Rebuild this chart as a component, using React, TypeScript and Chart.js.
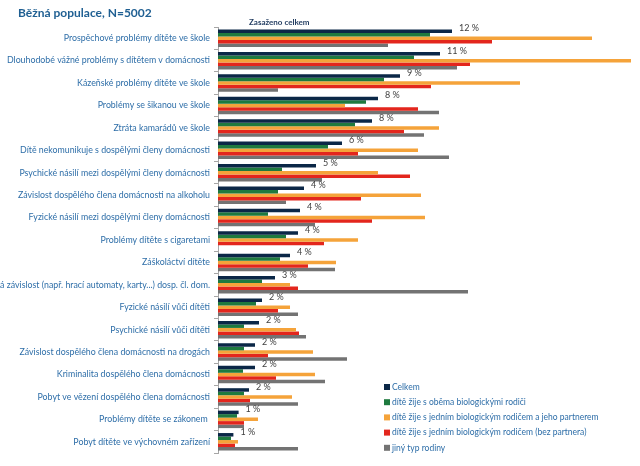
import React, { useEffect, useRef } from "react";
import { Chart, registerables } from "chart.js";

Chart.register(...registerables);

const categories: string[] = [
  "Prospěchové problémy dítěte ve škole",
  "Dlouhodobé vážné problémy s dítětem v domácnosti",
  "Kázeňské problémy dítěte ve škole",
  "Problémy se šikanou ve škole",
  "Ztráta kamarádů ve škole",
  "Dítě nekomunikuje s dospělými členy domácnosti",
  "Psychické násilí mezi dospělými členy domácnosti",
  "Závislost dospělého člena domácnosti na alkoholu",
  "Fyzické násilí mezi dospělými členy domácnosti",
  "Problémy dítěte s cigaretami",
  "Záškoláctví dítěte",
  "Jiná závislost (např. hrací automaty, karty...) dosp. čl. dom.",
  "Fyzické násilí vůči dítěti",
  "Psychické násilí vůči dítěti",
  "Závislost dospělého člena domácnosti na drogách",
  "Kriminalita dospělého člena domácnosti",
  "Pobyt ve vězení dospělého člena domácnosti",
  "Problémy dítěte se zákonem ",
  "Pobyt dítěte ve výchovném zařízení",
];

const seriesNames: string[] = [
  "Celkem",
  "dítě žije s oběma biologickými rodiči",
  "dítě žije s jedním biologickým rodičem a jeho partnerem",
  "dítě žije s jedním biologickým rodičem (bez partnera)",
  "jiný typ rodiny",
];

const celkem: number[] = [11.7, 11.1, 9.1, 8.0, 7.7, 6.2, 4.9, 4.3, 4.1, 4.0, 3.6, 2.85, 2.2, 2.05, 1.85, 1.85, 1.55, 1.03, 0.77];
const obaRodice: number[] = [10.6, 9.8, 8.3, 7.4, 6.85, 5.5, 3.2, 3.0, 2.5, 3.4, 3.1, 2.2, 1.9, 1.3, 1.3, 1.25, 1.3, 0.95, 0.65];
const rodicPartner: number[] = [18.7, 20.65, 15.1, 6.35, 11.05, 10.0, 8.0, 10.15, 10.35, 7.0, 5.9, 3.6, 3.6, 3.9, 4.75, 4.85, 3.7, 2.0, 1.0];
const rodicSam: number[] = [13.7, 12.6, 10.65, 10.0, 9.3, 7.0, 9.6, 7.15, 7.7, 5.3, 4.5, 4.0, 3.0, 4.05, 2.5, 2.9, 1.6, 1.3, 0.85];
const jinyTyp: number[] = [8.5, 11.95, 3.0, 11.05, 10.3, 11.55, 5.2, 3.4, 4.85, 0, 5.85, 12.5, 4.0, 4.4, 6.45, 5.35, 4.0, 1.3, 4.0];

const seriesValues: number[][] = [celkem, obaRodice, rodicPartner, rodicSam, jinyTyp];
const seriesColors: string[] = ["#0b2747", "#1e7a3f", "#f5a33a", "#e3261d", "#737373"];

const titleText = "Běžná populace, N=5002";
const subTitleText = "Zasaženo celkem";

const FONT = "Lato, 'Open Sans', sans-serif";

export default function App() {
  const ref = useRef<HTMLCanvasElement | null>(null);

  useEffect(() => {
    if (!ref.current) return;

    const overlay = {
      id: "overlay",
      afterDatasetsDraw(chart: any) {
        const ctx = chart.ctx;
        const area = chart.chartArea;
        ctx.save();
        // value labels for first dataset
        const meta = chart.getDatasetMeta(0);
        ctx.font = `9px ${FONT}`;
        ctx.fillStyle = "#404040";
        ctx.textAlign = "left";
        ctx.textBaseline = "middle";
        meta.data.forEach((bar: any, i: number) => {
          const v = chart.data.datasets[0].data[i] as number;
          ctx.fillText(`${Math.round(v)} %`, bar.x + 7, bar.y - 3);
        });
        // title
        ctx.font = `bold 12px ${FONT}`;
        ctx.fillStyle = "#1f5f92";
        ctx.textBaseline = "middle";
        ctx.fillText(titleText, 18, 13);
        ctx.font = `bold 8px ${FONT}`;
        ctx.fillStyle = "#1f3a5f";
        ctx.fillText(subTitleText, area.left + 31, 22);
        // legend
        const lx = 384;
        let ly = 387;
        chart.data.datasets.forEach((ds: any) => {
          ctx.fillStyle = ds.backgroundColor;
          ctx.fillRect(lx, ly - 3, 6, 6);
          ctx.fillStyle = "#2e6ea8";
          ctx.font = `8.5px ${FONT}`;
          ctx.fillText(ds.label, lx + 8, ly);
          ly += 15.2;
        });
        ctx.restore();
      },
    };

    const chart = new Chart(ref.current, {
      type: "bar",
      data: {
        labels: categories,
        datasets: seriesValues.map((vals, i) => ({
          label: seriesNames[i],
          data: vals,
          backgroundColor: seriesColors[i],
          borderWidth: 0,
          categoryPercentage: 0.78,
          barPercentage: 1.0,
        })),
      },
      options: {
        indexAxis: "y",
        animation: false,
        responsive: true,
        maintainAspectRatio: false,
        layout: { padding: { top: 27, bottom: 13, right: 8, left: 0 } },
        plugins: {
          legend: { display: false },
          tooltip: { enabled: false },
          title: { display: false },
        },
        scales: {
          x: {
            display: false,
            min: 0,
            max: 20.7,
          },
          y: {
            afterFit(scale: any) {
              scale.width = 218;
            },
            border: { display: true, color: "#a6a6a6", width: 1 },
            grid: {
              display: true,
              drawOnChartArea: false,
              drawTicks: true,
              tickLength: 4,
              color: "#a6a6a6",
              offset: true,
            },
            ticks: {
              autoSkip: false,
              padding: 4,
              color: "#2e6ea8",
              font: { family: FONT, size: 8.8 },
            },
          },
        },
      },
      plugins: [overlay],
    });

    return () => chart.destroy();
  }, []);

  return (
    <div style={{ position: "absolute", left: 0, top: 0, width: 640, height: 466, background: "#fff" }}>
      <canvas ref={ref} />
    </div>
  );
}
